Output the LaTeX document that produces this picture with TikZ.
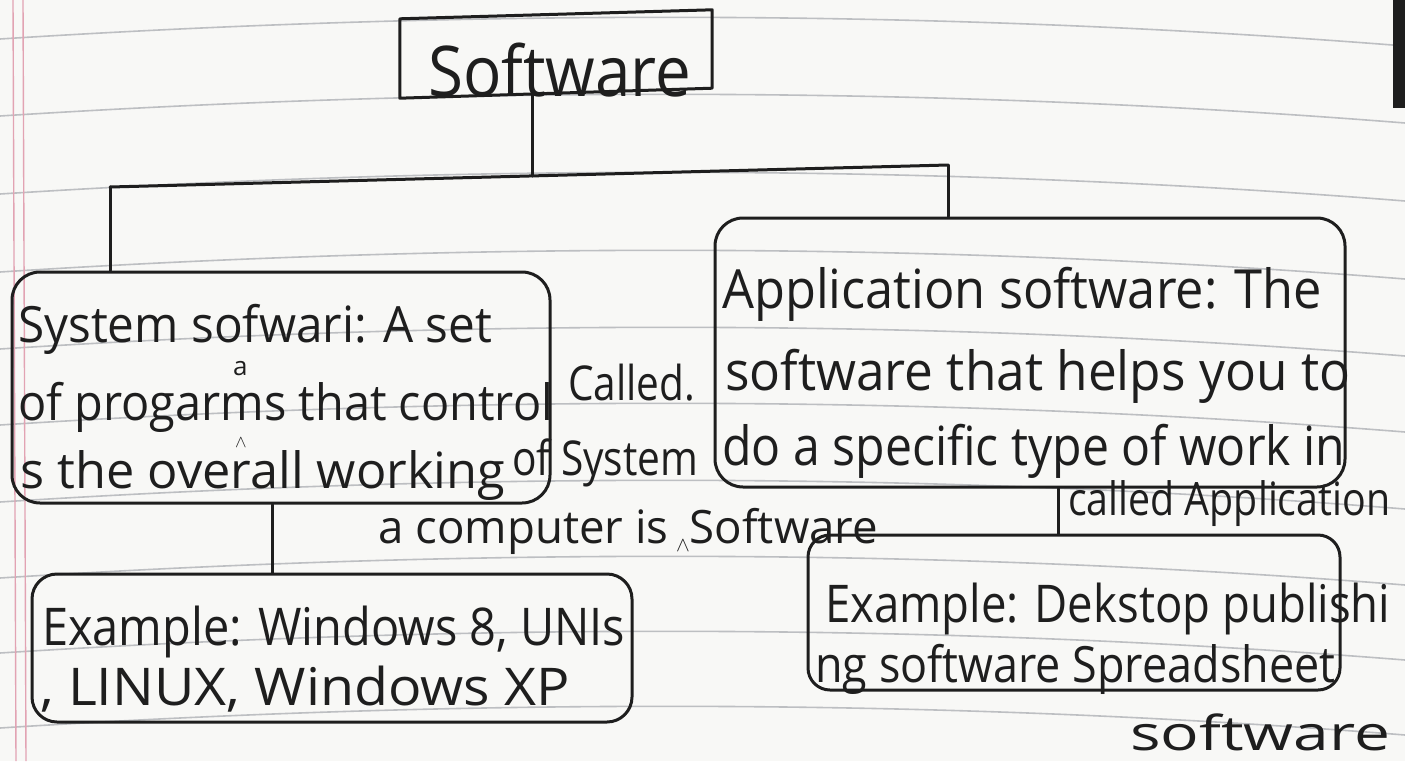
\documentclass[tikz,border=0pt]{standalone}
\usepackage{fontspec}
\usepackage{graphicx}
\setmainfont{Open Sans}
\definecolor{ink}{HTML}{1E1E1E}
\definecolor{paper}{HTML}{F8F8F6}
\definecolor{rulec}{HTML}{BDBFC2}
\definecolor{marginc}{HTML}{E2A3B3}
\newcommand\fitw[2]{\resizebox{#1pt}{\height}{#2}}
\newcommand\hsz[1]{\fontsize{#1}{#1}\selectfont}
\begin{document}
\begin{tikzpicture}[x=1pt,y=-1pt,
  inkline/.style={draw=ink,line width=3pt,line cap=round,line join=round},
  plainbox/.style={rectangle,inner sep=0pt},
  roundbox/.style={inkline,rectangle,rounded corners=#1,inner sep=0pt},
  roundbox/.default=28pt,
  hand/.style={text=ink,inner sep=0pt,anchor=base west},
  ruled/.style={draw=rulec,line width=1.6pt},
  marg/.style={draw=marginc,line width=1.4pt}
]
% paper
\fill[paper] (0,0) rectangle (1405,761);
\useasboundingbox (0,0) rectangle (1405,761);
\foreach \L in {39,116,194,272,349,425,502,578,653,728}{
  \draw[ruled] (0,\L) .. controls (470,\L-30) and (940,\L-30) .. (1405,\L+7);
}
\draw[marg] (13,0) -- (16,761);
\draw[marg] (23,0) -- (26,761);
\fill[ink] (1393,0) rectangle (1405,108);

% boxes
\node[plainbox, minimum width=312pt, minimum height=82pt] (sw) at (556,56) {};
\draw[inkline] ([yshift=-4pt]sw.north west) -- ([yshift=5pt]sw.north east)
   -- ([yshift=9pt]sw.south east) -- ([yshift=-1pt]sw.south west) -- cycle;
\node[roundbox, minimum width=538pt, minimum height=231pt] (sys) at (281,387.5) {};
\node[roundbox, minimum width=630pt, minimum height=269pt] (app) at (1030,352.5) {};
\node[roundbox=25pt, minimum width=600pt, minimum height=148pt] (ex1) at (332,648) {};
\node[roundbox=22pt, minimum width=532pt, minimum height=155pt] (ex2) at (1074,612.5) {};

% connectors
\coordinate (jm) at (532,176);
\coordinate (jl) at (110,187);
\coordinate (jr) at (948,165);
\coordinate (c1) at (272,0);
\coordinate (c2) at (1058,0);
\draw[inkline] ([yshift=4pt]sw.south -| jm) -- (jm);
\draw[inkline] (jl) -- (jr);
\draw[inkline] (jl) -- (jl |- sys.north);
\draw[inkline] (jr) -- (jr |- app.north);
\draw[inkline] (c1 |- sys.south) -- (c1 |- ex1.north);
\draw[inkline] (c2 |- app.south) -- (c2 |- ex2.north);

% texts
\node[hand] (swt) at (428,96) {\hsz{70}\fitw{263}{Software}};
\node[hand] (s1) at (18,342) {\hsz{50}\fitw{474}{System sofwari: A set}};
\node[hand] (sa) at (233,375) {\hsz{26}a};
\node[hand] (s2) at (18,420) {\hsz{50}\fitw{535}{of progarms that control}};
\node[hand] (scar) at (235,447) {\hsz{16}$\wedge$};
\node[hand] (s3) at (20,488) {\hsz{50}\fitw{485}{s the overall working}};
\node[hand] (called) at (568,400) {\hsz{48}\fitw{127}{Called.}};
\node[hand] (ofsys) at (512,475) {\hsz{48}\fitw{186}{of System}};
\node[hand] (acomp) at (378,543) {\hsz{46}\fitw{500}{a computer is\,\raisebox{-8pt}{\hsz{22}$\wedge$}Software}};
\node[hand] (a1) at (722,308) {\hsz{54}\fitw{600}{Application software: The}};
\node[hand] (a2) at (725,390) {\hsz{54}\fitw{625}{software that helps you to}};
\node[hand] (a3) at (722,465) {\hsz{54}\fitw{623}{do a specific type of work in}};
\node[hand] (capp) at (1068,515) {\hsz{46}\fitw{322}{called Application}};
\node[hand] (e1) at (42,645) {\hsz{52}\fitw{583}{Example: Windows 8, UNIs}};
\node[hand] (e2) at (40,705) {\hsz{52}\fitw{530}{, LINUX, Windows XP}};
\node[hand] (r1) at (825,622) {\hsz{52}\fitw{565}{Example: Dekstop publishi}};
\node[hand] (r2) at (815,682) {\hsz{50}\fitw{520}{ng software Spreadsheet}};
\node[hand] (r3) at (1130,750) {\hsz{48}\fitw{260}{software}};
\end{tikzpicture}
\end{document}
